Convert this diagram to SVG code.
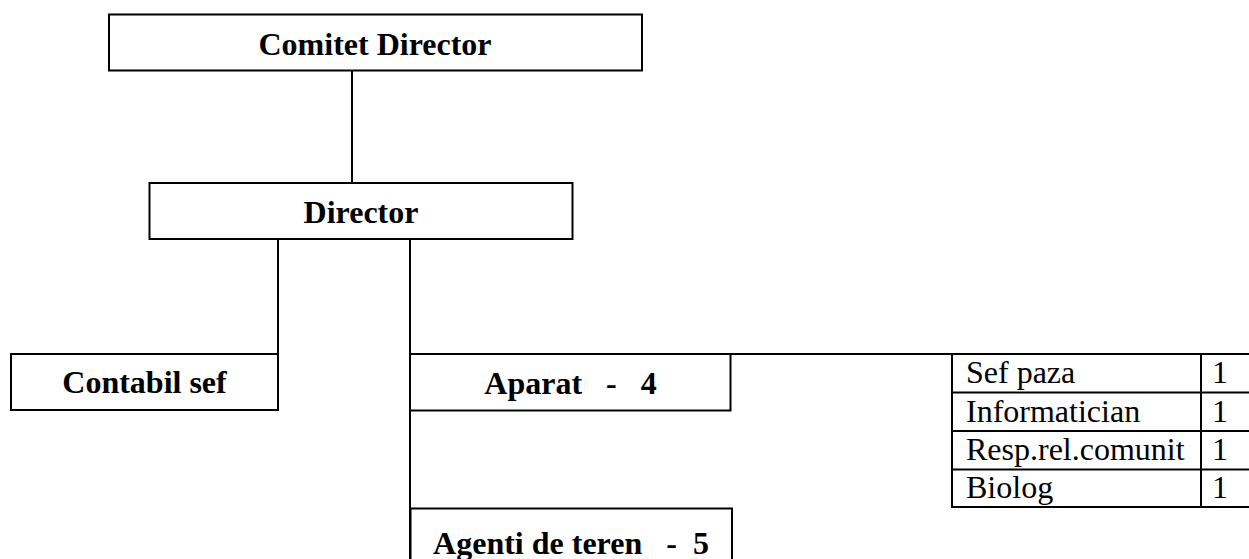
<svg xmlns="http://www.w3.org/2000/svg" width="1249" height="559" viewBox="0 0 1249 559">
<style>
.box{fill:#fff;stroke:#000;stroke-width:2}
.ln{stroke:#000;stroke-width:2;fill:none}
.b{font-weight:bold;font-size:32px;fill:#000;text-anchor:middle;white-space:pre}
.r{font-size:32px;fill:#000;white-space:pre}
</style>
<rect width="1249" height="559" fill="#fff"/>
<g id="connectors">
<line class="ln" x1="352" y1="71" x2="352" y2="183"/>
<line class="ln" x1="278" y1="239" x2="278" y2="354"/>
<line class="ln" x1="410" y1="239" x2="410" y2="559"/>
<line class="ln" x1="410" y1="354" x2="952" y2="354"/>
</g>
<g font-family="'Liberation Serif', 'DejaVu Serif', serif">
<g id="comitet">
<rect class="box" x="109" y="14.5" width="533" height="56"/>
<text class="b" x="375" y="54.5">Comitet Director</text>
</g>
<g id="director">
<rect class="box" x="149.5" y="183" width="423" height="56"/>
<text class="b" x="361" y="223">Director</text>
</g>
<g id="contabil">
<rect class="box" x="11" y="354" width="267" height="56"/>
<text class="b" x="144.5" y="393">Contabil sef</text>
</g>
<g id="aparat">
<rect class="box" x="410" y="354" width="320.5" height="56.5"/>
<text class="b" x="570.5" y="394" xml:space="preserve">Aparat   -   4</text>
</g>
<g id="agenti">
<rect class="box" x="410.5" y="508.5" width="321.5" height="60"/>
<text class="b" x="571" y="554" xml:space="preserve">Agenti de teren   -  5</text>
</g>
<g id="tabel">
<line class="ln" x1="952" y1="354" x2="1249" y2="354"/>
<line class="ln" x1="952" y1="392.5" x2="1249" y2="392.5"/>
<line class="ln" x1="952" y1="431" x2="1249" y2="431"/>
<line class="ln" x1="952" y1="469.5" x2="1249" y2="469.5"/>
<line class="ln" x1="952" y1="507" x2="1249" y2="507"/>
<line class="ln" x1="952" y1="353" x2="952" y2="508"/>
<line class="ln" x1="1201" y1="353" x2="1201" y2="508"/>
<text class="r" x="966" y="383">Sef paza</text>
<text class="r" x="966" y="421.5">Informatician</text>
<text class="r" x="966" y="460">Resp.rel.comunit</text>
<text class="r" x="966" y="498">Biolog</text>
<text class="r" x="1212" y="383">1</text>
<text class="r" x="1212" y="421.5">1</text>
<text class="r" x="1212" y="460">1</text>
<text class="r" x="1212" y="498">1</text>
</g>
</g>
</svg>
